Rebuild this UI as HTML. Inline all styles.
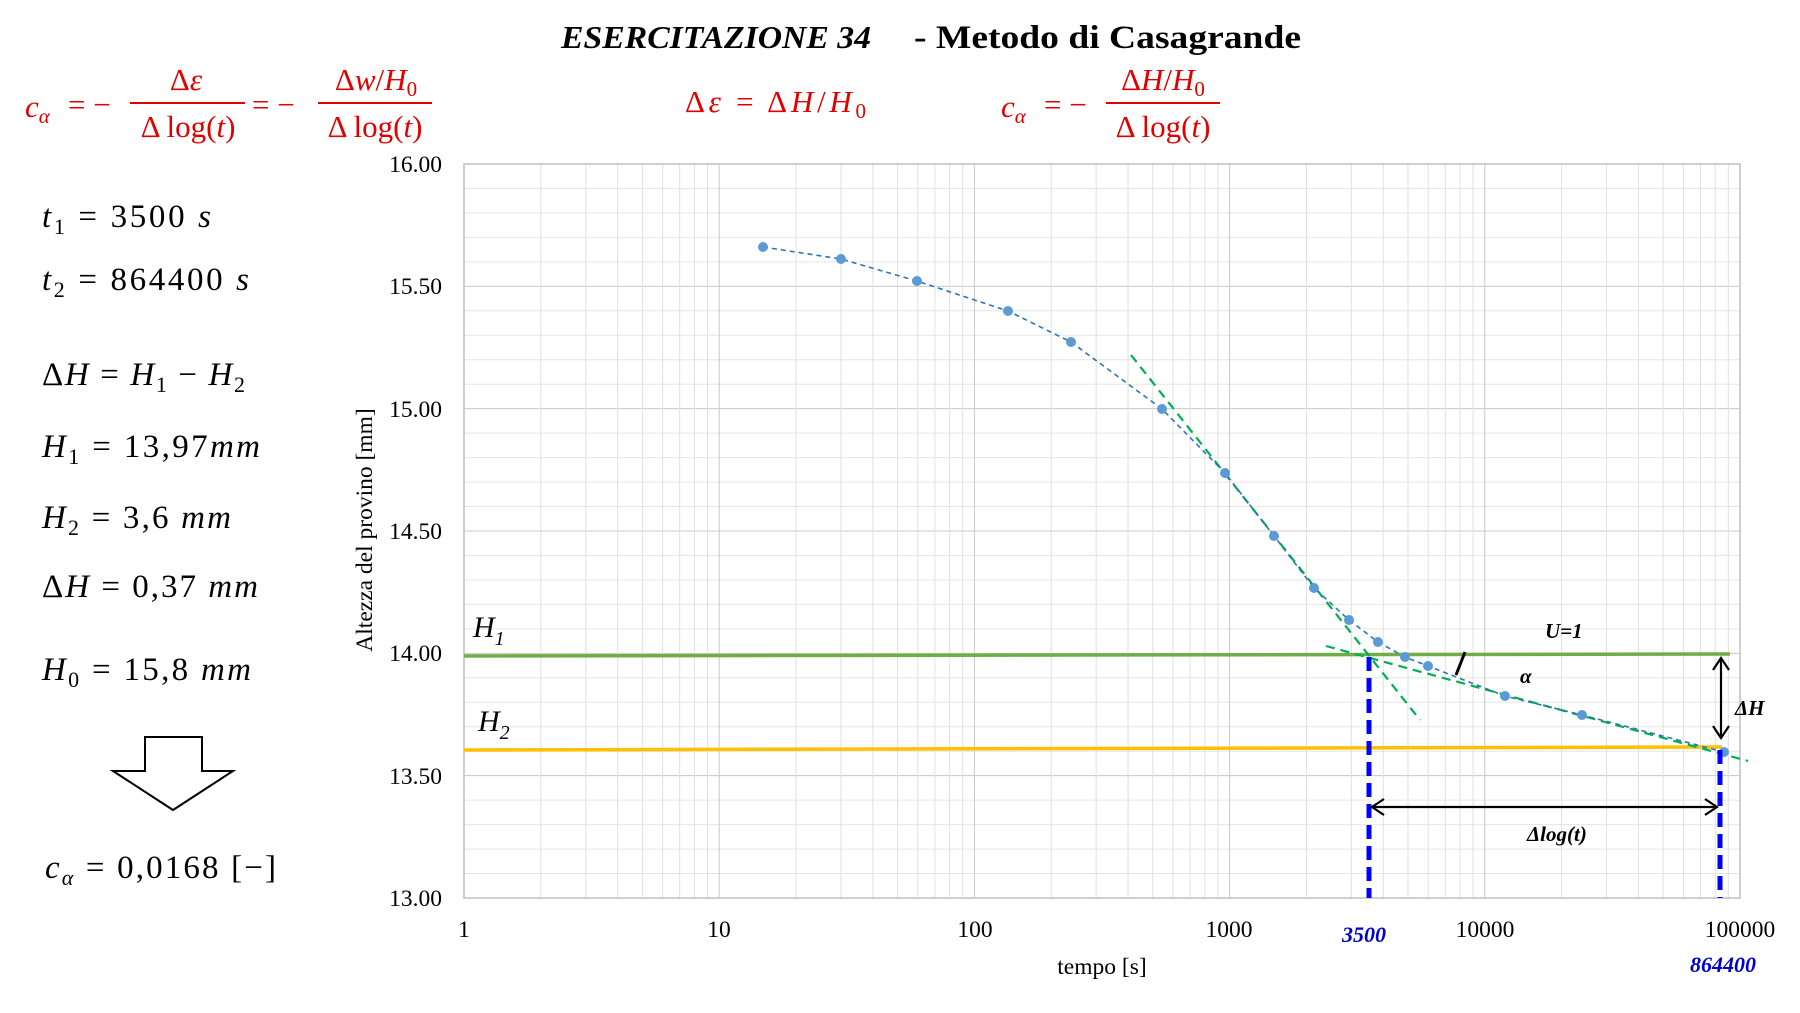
<!DOCTYPE html>
<html><head><meta charset="utf-8"><style>
html,body{margin:0;padding:0;background:#fff;}
svg{display:block;}
</style></head><body>
<svg width="1800" height="1013" viewBox="0 0 1800 1013" xmlns="http://www.w3.org/2000/svg" font-family="Liberation Serif, serif">
<g id="grid" stroke="#d9d9d9" stroke-width="1"></g>
<rect x="464" y="164" width="1276" height="734" fill="none" stroke="#bfbfbf" stroke-width="1.5"/>
<script>
(function(){
var g=document.getElementById('grid');var ns='http://www.w3.org/2000/svg';
function L(x1,y1,x2,y2,c,w){var l=document.createElementNS(ns,'line');l.setAttribute('x1',x1);l.setAttribute('y1',y1);l.setAttribute('x2',x2);l.setAttribute('y2',y2);if(c)l.setAttribute('stroke',c);if(w)l.setAttribute('stroke-width',w);g.appendChild(l);}
for(var i=0;i<=30;i++){var y=164+i*734/30;L(464,y,1740,y,i%5==0?'#c8c8c8':'#e6e6e6');}
for(var d=0;d<5;d++){for(var k=1;k<=9;k++){var x=464+255.2*(d+Math.log10(k));L(x,164,x,898,k==1?'#c8c8c8':'#e0e0e0');}}
})();
</script>
<line x1="464" y1="656" x2="1730" y2="654" stroke="#70ad47" stroke-width="3.5"/>
<line x1="464" y1="750" x2="1722" y2="747" stroke="#ffc000" stroke-width="3.5"/>
<line x1="1131" y1="355" x2="1420" y2="720" stroke="#00b050" stroke-width="2.2" stroke-dasharray="9,6"/>
<line x1="1326" y1="646" x2="1748" y2="761" stroke="#00b050" stroke-width="2.2" stroke-dasharray="9,6"/>
<polyline fill="none" stroke="#2e75b6" stroke-width="1.6" stroke-dasharray="5,4" points="763,247 841,259 917,281 1008,311 1071,342 1162,409 1225,473 1274,536 1314,588 1349,620 1378,642 1405,657 1428,666 1505,696 1582,715 1724,752"/>
<g fill="#5b9bd5">
<circle cx="763" cy="247" r="5"/><circle cx="841" cy="259" r="5"/><circle cx="917" cy="281" r="5"/><circle cx="1008" cy="311" r="5"/><circle cx="1071" cy="342" r="5"/><circle cx="1162" cy="409" r="5"/><circle cx="1225" cy="473" r="5"/><circle cx="1274" cy="536" r="5"/><circle cx="1314" cy="588" r="5"/><circle cx="1349" cy="620" r="5"/><circle cx="1378" cy="642" r="5"/><circle cx="1405" cy="657" r="5"/><circle cx="1428" cy="666" r="5"/><circle cx="1505" cy="696" r="5"/><circle cx="1582" cy="715" r="5"/><circle cx="1724" cy="752" r="5"/>
</g>
<line x1="1369" y1="657" x2="1369" y2="898" stroke="#0000ff" stroke-width="5" stroke-dasharray="14,7"/>
<line x1="1720" y1="750" x2="1720" y2="898" stroke="#0000ff" stroke-width="5" stroke-dasharray="14,7"/>
<g stroke="#000" stroke-width="2.2" fill="none">
<line x1="1372" y1="807" x2="1717" y2="807"/>
<polyline points="1384,799 1372,807 1384,815"/>
<polyline points="1705,799 1717,807 1705,815"/>
<line x1="1721" y1="658" x2="1721" y2="738"/>
<polyline points="1713,670 1721,658 1729,670"/>
<polyline points="1713,726 1721,738 1729,726"/>
<line x1="1465" y1="652" x2="1456" y2="675" stroke-width="3"/>
</g>
<g font-style="italic" font-weight="bold" font-size="21" fill="#000">
<text x="1545" y="638">U=1</text>
<text x="1520" y="683">α</text>
<text x="1735" y="715">ΔH</text>
<text x="1527" y="841">Δlog(t)</text>
</g>
<g font-style="italic" font-weight="bold" font-size="22" fill="#0000cc">
<text x="1342" y="942">3500</text>
<text x="1690" y="972">864400</text>
</g>
<g font-style="italic" font-size="30" fill="#000">
<text x="473" y="637">H<tspan font-size="20" dy="8">1</tspan></text>
<text x="478" y="731">H<tspan font-size="20" dy="8">2</tspan></text>
</g>
<g font-size="23.5" fill="#000" text-anchor="end">
<text x="442" y="172">16.00</text><text x="442" y="294">15.50</text><text x="442" y="417">15.00</text><text x="442" y="539">14.50</text><text x="442" y="661">14.00</text><text x="442" y="784">13.50</text><text x="442" y="906">13.00</text>
</g>
<g font-size="23.5" fill="#000" text-anchor="middle">
<text x="464" y="937">1</text><text x="719" y="937">10</text><text x="975" y="937">100</text><text x="1229" y="937">1000</text><text x="1485" y="937">10000</text><text x="1740" y="937">100000</text>
<text x="1102" y="974">tempo [s]</text>
<text transform="translate(372,530) rotate(-90)">Altezza del provino [mm]</text>
</g>
<text x="561" y="48" font-size="32" font-weight="bold" font-style="italic" textLength="310" lengthAdjust="spacingAndGlyphs">ESERCITAZIONE 34</text>
<text x="914" y="48" font-size="33" font-weight="bold" textLength="387" lengthAdjust="spacingAndGlyphs">- Metodo di Casagrande</text>
<g fill="#e00000" font-size="31">
<text x="25" y="117" font-style="italic">c<tspan font-size="21" dy="6">α</tspan></text>
<text x="68" y="115">= −</text>
<text x="186" y="90" text-anchor="middle">Δ<tspan font-style="italic">ε</tspan></text>
<line x1="130" y1="103" x2="245" y2="103" stroke="#e00000" stroke-width="2"/>
<text x="188" y="137" text-anchor="middle">Δ log(<tspan font-style="italic">t</tspan>)</text>
<text x="252" y="115">= −</text>
<text x="376" y="90" text-anchor="middle">Δ<tspan font-style="italic">w</tspan>/<tspan font-style="italic">H</tspan><tspan font-size="21" dy="6">0</tspan></text>
<line x1="318" y1="103" x2="432" y2="103" stroke="#e00000" stroke-width="2"/>
<text x="375" y="137" text-anchor="middle">Δ log(<tspan font-style="italic">t</tspan>)</text>
<text x="685" y="112" textLength="181">Δ<tspan font-style="italic">ε</tspan> = Δ<tspan font-style="italic">H</tspan>/<tspan font-style="italic">H</tspan><tspan font-size="21" dy="6">0</tspan></text>
<text x="1001" y="117" font-style="italic">c<tspan font-size="21" dy="6">α</tspan></text>
<text x="1044" y="115">= −</text>
<text x="1163" y="90" text-anchor="middle">Δ<tspan font-style="italic">H</tspan>/<tspan font-style="italic">H</tspan><tspan font-size="21" dy="6">0</tspan></text>
<line x1="1106" y1="103" x2="1220" y2="103" stroke="#e00000" stroke-width="2"/>
<text x="1163" y="137" text-anchor="middle">Δ log(<tspan font-style="italic">t</tspan>)</text>
</g>
<g fill="#000" font-size="33">
<text x="42" y="227" textLength="169"><tspan font-style="italic">t</tspan><tspan font-size="22" dy="7">1</tspan><tspan dy="-7"> = 3500 </tspan><tspan font-style="italic">s</tspan></text>
<text x="42" y="290" textLength="207"><tspan font-style="italic">t</tspan><tspan font-size="22" dy="7">2</tspan><tspan dy="-7"> = 864400 </tspan><tspan font-style="italic">s</tspan></text>
<text x="42" y="385" textLength="203">Δ<tspan font-style="italic">H</tspan> = <tspan font-style="italic">H</tspan><tspan font-size="22" dy="7">1</tspan><tspan dy="-7"> − </tspan><tspan font-style="italic">H</tspan><tspan font-size="22" dy="7">2</tspan></text>
<text x="42" y="457" textLength="218"><tspan font-style="italic">H</tspan><tspan font-size="22" dy="7">1</tspan><tspan dy="-7"> = 13,97</tspan><tspan font-style="italic">mm</tspan></text>
<text x="42" y="528" textLength="189"><tspan font-style="italic">H</tspan><tspan font-size="22" dy="7">2</tspan><tspan dy="-7"> = 3,6 </tspan><tspan font-style="italic">mm</tspan></text>
<text x="42" y="597" textLength="216">Δ<tspan font-style="italic">H</tspan> = 0,37 <tspan font-style="italic">mm</tspan></text>
<text x="42" y="680" textLength="209"><tspan font-style="italic">H</tspan><tspan font-size="22" dy="7">0</tspan><tspan dy="-7"> = 15,8 </tspan><tspan font-style="italic">mm</tspan></text>
<text x="45" y="878" textLength="231"><tspan font-style="italic">c</tspan><tspan font-size="22" dy="7" font-style="italic">α</tspan><tspan dy="-7"> = 0,0168 [−]</tspan></text>
</g>
<polygon points="145,737 202,737 202,771 233,771 173,810 113,771 145,771" fill="#fff" stroke="#000" stroke-width="2"/>
</svg>
</body></html>
